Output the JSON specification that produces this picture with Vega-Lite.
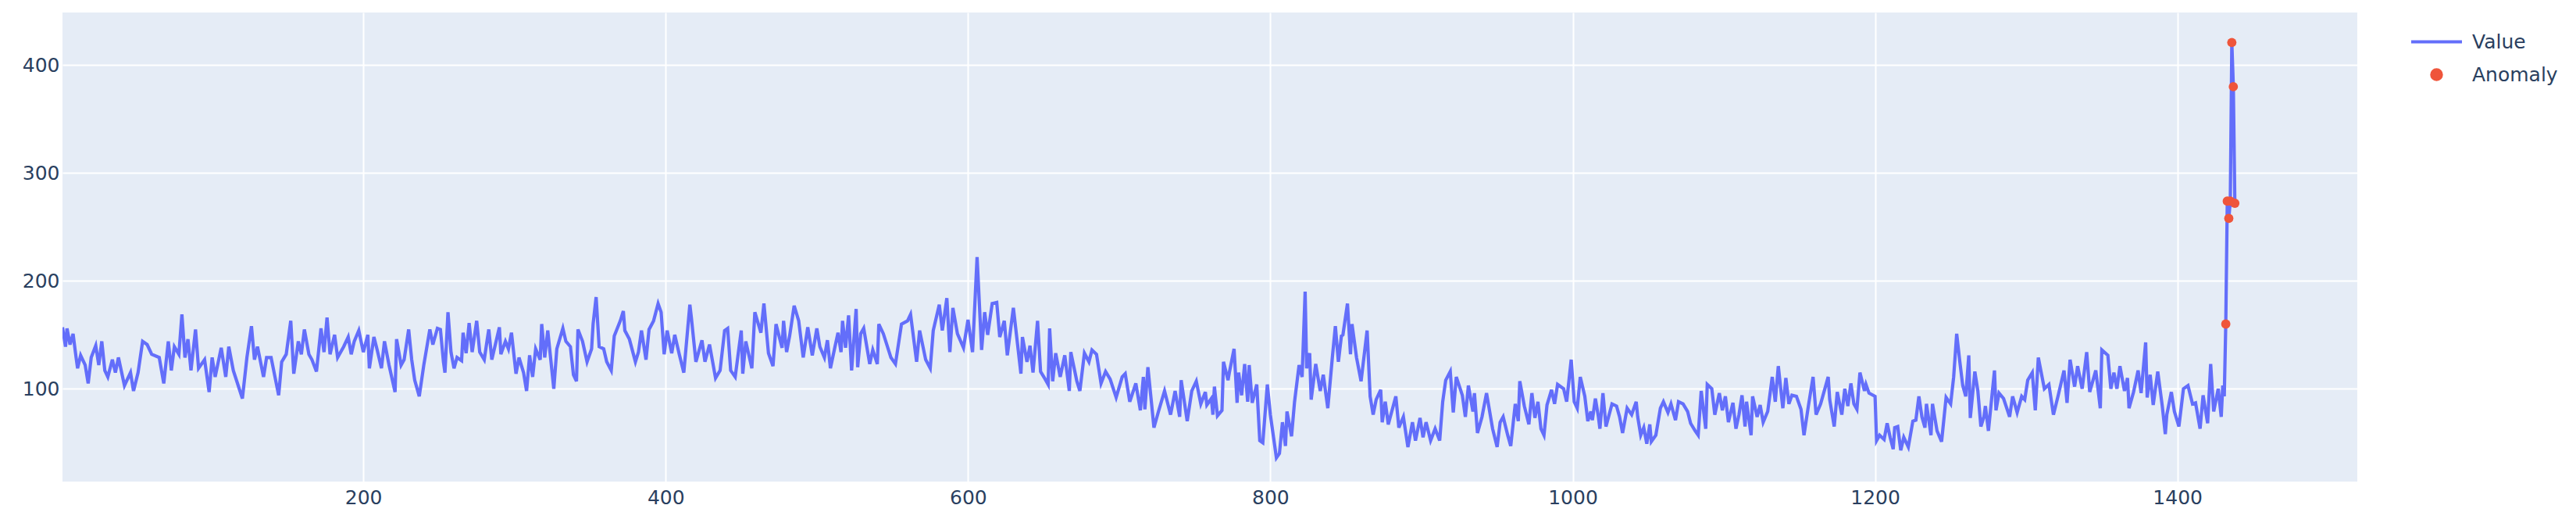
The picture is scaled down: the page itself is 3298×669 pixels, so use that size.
{
"$schema": "https://vega.github.io/schema/vega-lite/v6.json",
"width": 2938, "height": 600,
"autosize": {"type": "none"},
"padding": {"left": 80, "top": 16, "right": 280, "bottom": 53},
"background": "white",
"config": {
  "view": {"fill": "#E5ECF6", "stroke": null},
  "font": "DejaVu Sans",
  "axis": {"labelFont": "DejaVu Sans", "labelFontSize": 25, "labelColor": "#2a3f5f", "domain": false, "ticks": false, "gridColor": "#ffffff", "gridWidth": 2, "gridOpacity": 1, "title": null},
  "legend": {"orient": "none", "legendX": 3027, "legendY": 25, "title": null, "padding": 0, "labelFont": "DejaVu Sans", "labelFontSize": 25, "labelColor": "#2a3f5f", "labelOffset": 33, "rowPadding": 13, "symbolType": "stroke", "symbolSize": 4225, "symbolStrokeWidth": 4.2, "labelLimit": 0}
},
"datasets": {
"line": [
{"x":1,"v":157},{"x":3,"v":139},{"x":4,"v":156},{"x":6,"v":141},{"x":8,"v":151},{"x":10,"v":129},{"x":11,"v":119},{"x":13,"v":131},{"x":16,"v":122},{"x":18,"v":105},{"x":20,"v":129},{"x":23,"v":140},{"x":25,"v":122},{"x":27,"v":144},{"x":29,"v":117},{"x":31,"v":111},{"x":34,"v":127},{"x":36,"v":115},{"x":38,"v":129},{"x":42,"v":103},{"x":46,"v":115},{"x":48,"v":98},{"x":51,"v":115},{"x":54,"v":144},{"x":57,"v":141},{"x":60,"v":132},{"x":65,"v":129},{"x":68,"v":105},{"x":71,"v":144},{"x":73,"v":117},{"x":75,"v":139},{"x":78,"v":132},{"x":80,"v":169},{"x":82,"v":129},{"x":84,"v":146},{"x":86,"v":117},{"x":89,"v":155},{"x":91,"v":119},{"x":95,"v":127},{"x":98,"v":97},{"x":100,"v":129},{"x":102,"v":111},{"x":106,"v":138},{"x":109,"v":111},{"x":111,"v":139},{"x":114,"v":117},{"x":120,"v":91},{"x":123,"v":129},{"x":126,"v":158},{"x":128,"v":127},{"x":130,"v":139},{"x":134,"v":111},{"x":136,"v":129},{"x":139,"v":129},{"x":144,"v":94},{"x":146,"v":125},{"x":149,"v":132},{"x":152,"v":163},{"x":154,"v":114},{"x":157,"v":144},{"x":159,"v":132},{"x":161,"v":155},{"x":164,"v":132},{"x":166,"v":127},{"x":169,"v":116},{"x":172,"v":156},{"x":174,"v":134},{"x":176,"v":166},{"x":178,"v":132},{"x":181,"v":150},{"x":183,"v":129},{"x":187,"v":139},{"x":190,"v":148},{"x":192,"v":132},{"x":194,"v":144},{"x":197,"v":154},{"x":200,"v":134},{"x":203,"v":150},{"x":204,"v":119},{"x":207,"v":148},{"x":209,"v":137},{"x":212,"v":119},{"x":214,"v":144},{"x":217,"v":122},{"x":221,"v":97},{"x":222,"v":146},{"x":225,"v":122},{"x":227,"v":127},{"x":230,"v":155},{"x":232,"v":127},{"x":234,"v":108},{"x":237,"v":93},{"x":240,"v":122},{"x":244,"v":155},{"x":246,"v":141},{"x":249,"v":156},
{"x":251,"v":155},{"x":253,"v":125},{"x":254,"v":115},{"x":256,"v":171},{"x":258,"v":134},{"x":260,"v":119},{"x":262,"v":129},{"x":265,"v":126},{"x":266,"v":152},{"x":268,"v":133},{"x":270,"v":161},{"x":272,"v":134},{"x":275,"v":163},{"x":277,"v":134},{"x":280,"v":127},{"x":282,"v":146},{"x":283,"v":155},{"x":285,"v":127},{"x":287,"v":139},{"x":290,"v":157},{"x":291,"v":132},{"x":294,"v":144},{"x":296,"v":137},{"x":298,"v":152},{"x":301,"v":114},{"x":303,"v":129},{"x":306,"v":115},{"x":308,"v":98},{"x":310,"v":131},{"x":312,"v":111},{"x":314,"v":137},{"x":317,"v":127},{"x":318,"v":160},{"x":320,"v":129},{"x":322,"v":154},{"x":324,"v":127},{"x":326,"v":100},{"x":328,"v":137},{"x":332,"v":156},{"x":334,"v":144},{"x":337,"v":139},{"x":339,"v":113},{"x":341,"v":107},{"x":342,"v":155},{"x":345,"v":144},{"x":348,"v":125},{"x":351,"v":137},{"x":352,"v":160},{"x":354,"v":185},{"x":356,"v":139},{"x":359,"v":137},{"x":361,"v":125},{"x":364,"v":117},{"x":366,"v":149},{"x":370,"v":163},{"x":372,"v":172},{"x":373,"v":154},{"x":376,"v":146},{"x":380,"v":125},{"x":382,"v":134},{"x":384,"v":154},{"x":387,"v":127},{"x":389,"v":155},{"x":392,"v":163},{"x":395,"v":179},{"x":397,"v":171},{"x":399,"v":132},{"x":401,"v":154},{"x":404,"v":133},{"x":406,"v":150},{"x":409,"v":132},{"x":412,"v":115},{"x":416,"v":178},{"x":417,"v":166},{"x":420,"v":125},{"x":424,"v":145},{"x":426,"v":125},{"x":429,"v":141},{"x":433,"v":110},{"x":436,"v":117},{"x":439,"v":154},{"x":441,"v":156},{"x":443,"v":117},{"x":446,"v":111},{"x":450,"v":154},{"x":451,"v":114},{"x":453,"v":144},{"x":457,"v":119},{"x":459,"v":171},{"x":463,"v":152},{"x":465,"v":179},{"x":468,"v":133},{"x":471,"v":121},{"x":473,"v":160},{"x":477,"v":138},{"x":478,"v":163},{"x":480,"v":134},{"x":482,"v":149},{"x":485,"v":177},{"x":488,"v":163},{"x":491,"v":129},{"x":494,"v":157},{"x":497,"v":131},{"x":500,"v":156},{"x":502,"v":139},{"x":505,"v":129},
{"x":507,"v":145},{"x":509,"v":119},{"x":512,"v":139},{"x":514,"v":152},{"x":516,"v":134},{"x":517,"v":163},{"x":519,"v":138},{"x":521,"v":168},{"x":523,"v":117},{"x":526,"v":174},{"x":527,"v":120},{"x":529,"v":151},{"x":531,"v":156},{"x":535,"v":123},{"x":537,"v":136},{"x":540,"v":123},{"x":541,"v":160},{"x":544,"v":151},{"x":549,"v":129},{"x":552,"v":123},{"x":556,"v":160},{"x":560,"v":163},{"x":562,"v":169},{"x":566,"v":125},{"x":568,"v":154},{"x":572,"v":127},{"x":575,"v":119},{"x":577,"v":154},{"x":581,"v":178},{"x":583,"v":154},{"x":586,"v":184},{"x":588,"v":134},{"x":590,"v":175},{"x":593,"v":151},{"x":597,"v":138},{"x":600,"v":164},{"x":603,"v":134},{"x":606,"v":222},{"x":609,"v":136},{"x":611,"v":171},{"x":613,"v":150},{"x":616,"v":179},{"x":619,"v":180},{"x":621,"v":148},{"x":624,"v":163},{"x":626,"v":131},{"x":630,"v":175},{"x":635,"v":114},{"x":636,"v":148},{"x":639,"v":125},{"x":641,"v":140},{"x":643,"v":115},{"x":646,"v":163},{"x":648,"v":116},{"x":651,"v":109},{"x":653,"v":104},{"x":654,"v":156},{"x":656,"v":107},{"x":658,"v":133},{"x":661,"v":111},{"x":664,"v":131},{"x":667,"v":98},{"x":668,"v":134},{"x":672,"v":107},{"x":674,"v":98},{"x":677,"v":133},{"x":680,"v":125},{"x":682,"v":136},{"x":685,"v":132},{"x":688,"v":105},{"x":691,"v":116},{"x":694,"v":109},{"x":698,"v":92},{"x":702,"v":111},{"x":704,"v":114},{"x":707,"v":88},{"x":711,"v":105},{"x":714,"v":80},{"x":716,"v":111},{"x":717,"v":81},{"x":719,"v":120},{"x":723,"v":64},{"x":726,"v":79},{"x":730,"v":98},{"x":734,"v":76},{"x":737,"v":98},{"x":740,"v":74},{"x":741,"v":108},{"x":745,"v":70},{"x":748,"v":98},{"x":751,"v":107},{"x":754,"v":86},{"x":757,"v":97},
{"x":758,"v":85},{"x":761,"v":91},{"x":762,"v":76},{"x":763,"v":102},{"x":765,"v":75},{"x":768,"v":80},{"x":769,"v":125},{"x":772,"v":108},{"x":773,"v":116},{"x":776,"v":137},{"x":778,"v":87},{"x":779,"v":115},{"x":781,"v":94},{"x":783,"v":123},{"x":785,"v":88},{"x":786,"v":122},{"x":788,"v":87},{"x":791,"v":104},{"x":793,"v":52},{"x":795,"v":50},{"x":798,"v":104},{"x":800,"v":76},{"x":804,"v":36},{"x":806,"v":40},{"x":808,"v":69},{"x":810,"v":47},{"x":811,"v":79},{"x":814,"v":56},{"x":816,"v":88},{"x":819,"v":122},{"x":821,"v":111},{"x":823,"v":190},{"x":824,"v":119},{"x":826,"v":133},{"x":827,"v":90},{"x":830,"v":123},{"x":833,"v":98},{"x":835,"v":113},{"x":838,"v":82},{"x":841,"v":129},{"x":843,"v":158},{"x":845,"v":125},{"x":847,"v":149},{"x":848,"v":150},{"x":851,"v":179},{"x":853,"v":132},{"x":854,"v":160},{"x":857,"v":129},{"x":860,"v":107},{"x":864,"v":154},{"x":866,"v":93},{"x":868,"v":76},{"x":870,"v":90},{"x":873,"v":99},{"x":874,"v":69},{"x":876,"v":88},{"x":878,"v":67},{"x":883,"v":93},{"x":885,"v":64},{"x":888,"v":74},{"x":891,"v":46},{"x":894,"v":69},{"x":896,"v":52},{"x":899,"v":73},{"x":901,"v":55},{"x":903,"v":69},{"x":906,"v":52},{"x":909,"v":63},{"x":912,"v":52},{"x":914,"v":88},{"x":916,"v":108},{"x":919,"v":116},{"x":921,"v":78},{"x":923,"v":111},{"x":927,"v":94},{"x":929,"v":74},{"x":931,"v":103},{"x":934,"v":79},{"x":935,"v":96},{"x":937,"v":59},{"x":940,"v":74},{"x":943,"v":96},{"x":947,"v":63},{"x":950,"v":46},{"x":952,"v":69},{"x":954,"v":74},{"x":957,"v":57},{"x":959,"v":47},{"x":962,"v":86},{"x":964,"v":70},{"x":965,"v":107},{"x":968,"v":84},{"x":971,"v":67},{"x":973,"v":96},{"x":975,"v":73},{"x":977,"v":88},{"x":979,"v":63},{"x":981,"v":57},{"x":983,"v":85},{"x":986,"v":99},{"x":988,"v":86},{"x":990,"v":104},{"x":994,"v":100},{"x":996,"v":88},{"x":999,"v":127},{"x":1001,"v":88},{"x":1003,"v":82},{"x":1005,"v":111},{"x":1008,"v":93},{"x":1010,"v":70},{"x":1012,"v":79},
{"x":1013,"v":71},{"x":1015,"v":91},{"x":1017,"v":74},{"x":1018,"v":63},{"x":1020,"v":96},{"x":1022,"v":65},{"x":1026,"v":86},{"x":1029,"v":84},{"x":1031,"v":74},{"x":1033,"v":59},{"x":1036,"v":82},{"x":1039,"v":76},{"x":1042,"v":88},{"x":1043,"v":74},{"x":1045,"v":57},{"x":1047,"v":64},{"x":1049,"v":49},{"x":1051,"v":67},{"x":1052,"v":51},{"x":1055,"v":57},{"x":1058,"v":82},{"x":1060,"v":88},{"x":1063,"v":78},{"x":1065,"v":86},{"x":1068,"v":71},{"x":1070,"v":88},{"x":1073,"v":86},{"x":1076,"v":79},{"x":1078,"v":68},{"x":1081,"v":61},{"x":1083,"v":57},{"x":1085,"v":98},{"x":1088,"v":63},{"x":1089,"v":104},{"x":1092,"v":100},{"x":1094,"v":76},{"x":1097,"v":96},{"x":1099,"v":80},{"x":1101,"v":93},{"x":1103,"v":69},{"x":1106,"v":87},{"x":1108,"v":63},{"x":1110,"v":76},{"x":1112,"v":94},{"x":1114,"v":65},{"x":1115,"v":88},{"x":1118,"v":57},{"x":1119,"v":93},{"x":1122,"v":74},{"x":1124,"v":85},{"x":1126,"v":69},{"x":1129,"v":79},{"x":1132,"v":111},{"x":1134,"v":88},{"x":1136,"v":121},{"x":1139,"v":82},{"x":1141,"v":110},{"x":1143,"v":86},{"x":1145,"v":94},{"x":1148,"v":93},{"x":1151,"v":81},{"x":1153,"v":57},{"x":1156,"v":85},{"x":1159,"v":111},{"x":1161,"v":76},{"x":1164,"v":86},{"x":1169,"v":111},{"x":1170,"v":90},{"x":1173,"v":65},{"x":1175,"v":97},{"x":1178,"v":76},{"x":1180,"v":100},{"x":1182,"v":84},{"x":1184,"v":105},{"x":1186,"v":86},{"x":1188,"v":81},{"x":1190,"v":115},{"x":1193,"v":98},{"x":1194,"v":104},{"x":1196,"v":96},{"x":1200,"v":93},{"x":1201,"v":52},{"x":1203,"v":57},{"x":1206,"v":53},{"x":1208,"v":68},{"x":1210,"v":55},{"x":1212,"v":44},{"x":1213,"v":64},{"x":1215,"v":65},{"x":1217,"v":43},{"x":1219,"v":55},{"x":1222,"v":46},{"x":1225,"v":70},{"x":1227,"v":71},{"x":1229,"v":93},{"x":1231,"v":74},{"x":1233,"v":64},{"x":1234,"v":86},{"x":1237,"v":57},{"x":1238,"v":86},{"x":1241,"v":61},{"x":1244,"v":51},{"x":1247,"v":92},{"x":1250,"v":86},{"x":1252,"v":111},{"x":1254,"v":151},{"x":1256,"v":126},{"x":1258,"v":103},{"x":1260,"v":93},{"x":1262,"v":131},{"x":1263,"v":73},{"x":1266,"v":116},
{"x":1268,"v":98},{"x":1270,"v":65},{"x":1272,"v":74},{"x":1273,"v":84},{"x":1275,"v":61},{"x":1279,"v":117},{"x":1280,"v":80},{"x":1282,"v":96},{"x":1285,"v":91},{"x":1289,"v":74},{"x":1291,"v":93},{"x":1294,"v":78},{"x":1297,"v":93},{"x":1299,"v":90},{"x":1301,"v":108},{"x":1304,"v":115},{"x":1306,"v":80},{"x":1308,"v":129},{"x":1312,"v":100},{"x":1315,"v":104},{"x":1318,"v":76},{"x":1321,"v":93},{"x":1325,"v":117},{"x":1327,"v":87},{"x":1329,"v":127},{"x":1332,"v":102},{"x":1334,"v":121},{"x":1337,"v":100},{"x":1340,"v":134},{"x":1342,"v":97},{"x":1346,"v":117},{"x":1349,"v":82},{"x":1350,"v":136},{"x":1354,"v":131},{"x":1356,"v":100},{"x":1358,"v":115},{"x":1360,"v":100},{"x":1362,"v":121},{"x":1365,"v":98},{"x":1367,"v":110},{"x":1368,"v":82},{"x":1371,"v":97},{"x":1374,"v":117},{"x":1376,"v":96},{"x":1379,"v":143},{"x":1380,"v":92},{"x":1382,"v":113},{"x":1384,"v":85},{"x":1387,"v":116},{"x":1390,"v":84},{"x":1392,"v":58},{"x":1393,"v":76},{"x":1396,"v":97},{"x":1398,"v":79},{"x":1401,"v":65},{"x":1404,"v":100},{"x":1407,"v":103},{"x":1410,"v":86},{"x":1412,"v":87},{"x":1415,"v":63},{"x":1417,"v":94},{"x":1420,"v":68},{"x":1422,"v":123},{"x":1424,"v":79},{"x":1427,"v":100},{"x":1429,"v":74},{"x":1430,"v":103},{"x":1431,"v":93},
{"x":1432,"v":160},{"x":1433,"v":274},{"x":1434,"v":258},{"x":1435,"v":274},{"x":1436,"v":421},{"x":1437,"v":380},{"x":1438,"v":272}
],
"anom": [
{"x":1432,"v":160},{"x":1433,"v":274},{"x":1434,"v":258},{"x":1435,"v":274},{"x":1436,"v":421},{"x":1437,"v":380},{"x":1438,"v":272}
]
},
"layer": [
  {
    "data": {"name": "line"},
    "mark": {"type": "line", "strokeWidth": 4.2, "clip": true},
    "encoding": {
      "x": {"field": "x", "type": "quantitative", "scale": {"domain": [1, 1519], "nice": false, "zero": false}, "axis": {"values": [200, 400, 600, 800, 1000, 1200, 1400], "format": "d", "labelPadding": 8}},
      "y": {"field": "v", "type": "quantitative", "scale": {"domain": [14, 448.8], "nice": false, "zero": false}, "axis": {"values": [100, 200, 300, 400], "labelPadding": 4}},
      "color": {"datum": "Value", "type": "nominal", "scale": {"domain": ["Value", "Anomaly"], "range": ["#636efa", "#EF553B"]},
        "legend": {"encode": {"symbols": {"update": {
          "shape": {"signal": "datum.value === 'Value' ? 'stroke' : 'circle'"},
          "size": {"signal": "datum.value === 'Value' ? 4225 : 150"},
          "fill": {"signal": "datum.value === 'Value' ? 'transparent' : '#EF553B'"},
          "stroke": {"signal": "datum.value === 'Value' ? '#636efa' : 'transparent'"},
          "strokeWidth": {"value": 4.2},
          "opacity": {"value": 1}
        }}}}
      }
    }
  },
  {
    "data": {"name": "anom"},
    "mark": {"type": "point", "filled": true, "size": 140, "opacity": 1},
    "encoding": {
      "x": {"field": "x", "type": "quantitative"},
      "y": {"field": "v", "type": "quantitative"},
      "color": {"datum": "Anomaly", "type": "nominal"}
    }
  }
]
}
